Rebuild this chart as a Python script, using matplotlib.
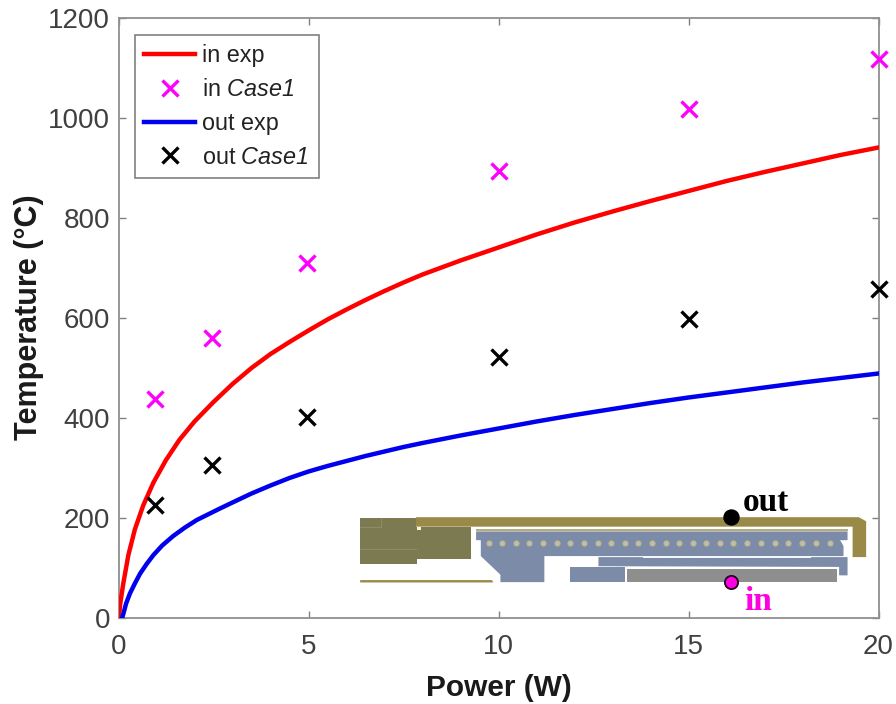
import matplotlib
matplotlib.use('Agg')
import matplotlib.pyplot as plt
from matplotlib.patches import Polygon

plt.rcParams['font.family'] = ['Liberation Sans', 'DejaVu Sans']
# rm is italic too, so the 1 in Case1 comes out slanted
plt.rcParams['mathtext.fontset'] = 'custom'
plt.rcParams['mathtext.it'] = 'Liberation Sans:italic'
plt.rcParams['mathtext.rm'] = 'Liberation Sans:italic'

# curves
in_exp_p = [0, 0.02, 0.05, 0.126, 0.26, 0.43, 0.65, 0.92, 1.25, 1.6, 2, 2.5, 3, 3.5, 4, 4.5, 5, 5.5, 6, 6.5,
            7, 7.5, 8, 9, 10, 11, 12, 13, 14, 15, 16, 17, 18, 19, 20]
in_exp_t = [0, 8, 30, 68, 125, 176, 224, 270, 315, 355, 392, 431, 467, 499, 527, 551, 574, 596, 616, 635,
            653, 670, 686, 714, 740, 766, 790, 812, 833, 853, 873, 891, 908, 925, 940]
out_exp_p = [0.1, 0.13, 0.2, 0.3, 0.43, 0.57, 0.74, 0.92, 1.15, 1.44, 1.75, 2.06, 2.67, 3, 3.5, 4, 4.5, 5, 5.5, 6,
             6.5, 7, 7.5, 8, 9, 10, 11, 12, 13, 14, 15, 16, 17, 18, 19, 20]
out_exp_t = [0, 8, 28, 48, 68, 88, 107, 125, 144, 163, 180, 195, 218, 230, 248, 264, 279, 292, 303, 313,
             323, 332, 341, 349, 364, 378, 392, 405, 417, 429, 440, 450, 460, 470, 479, 488]

case_p = [0.96, 2.47, 4.97, 10, 15, 20]
in_case = [437, 559, 710, 893, 1018, 1118]
out_case = [225, 305, 402, 521, 598, 658]

W, H = 896, 704
fig = plt.figure(figsize=(W / 100, H / 100), dpi=100)
ax = fig.add_axes([118.5 / W, 1 - 617.5 / H, 760 / W, 600 / H])

ax.plot(in_exp_p, in_exp_t, color='#ff0000', lw=3.2, label='in exp', zorder=3)
ax.plot(case_p, in_case, 'x', color='#ff00ff', ms=11, mew=2.4, clip_on=False, label=r'in $\mathit{Case1}$', zorder=4)
ax.plot(out_exp_p, out_exp_t, color='#0000ee', lw=3.2, label='out exp', zorder=3)
ax.plot(case_p, out_case, 'x', color='black', ms=11, mew=2.4, clip_on=False, label=r'out $\mathit{Case1}$', zorder=4)

ax.set_xlim(0, 20)
ax.set_ylim(0, 1200)
ax.set_xticks([0, 5, 10, 15, 20])
ax.set_yticks([0, 200, 400, 600, 800, 1000, 1200])
ax.tick_params(direction='in', length=5, width=1, color='#808080', labelcolor='#404040',
               labelsize=20, top=True, right=True)
ax.tick_params(axis='x', pad=12)
ax.tick_params(axis='y', pad=6)
for s in ax.spines.values():
    s.set_color('#909090')
    s.set_linewidth(1.3)
ax.set_xlabel('Power (W)', fontsize=21.5, fontweight='bold', color='#1a1a1a', labelpad=10)
ax.set_ylabel('Temperature (°C)', fontsize=22, fontweight='bold', color='#1a1a1a', labelpad=3)

leg = ax.legend(loc='upper left', bbox_to_anchor=(16 / 760, 1 - 17 / 600), fontsize=16.8, borderaxespad=0,
                fancybox=False, framealpha=1, edgecolor='#808080', labelspacing=0.46,
                handlelength=2.16, handletextpad=0.33, borderpad=0.42, labelcolor='#222222')
leg.get_frame().set_linewidth(1.2)
leg.set_zorder(5)

# device sketch, coordinates are those of the crop
sk = fig.add_axes([350 / W, 1 - 620 / H, 530 / W, 140 / H])
sk.set_xlim(0, 1568)
sk.set_ylim(414, 0)
sk.axis('off')
sk.patch.set_alpha(0)

gold = '#9a8a48'
olive = '#7b7a50'
steel = '#7c8ca8'
shapes = [
    ([(195, 110), (1505, 110), (1527, 122), (1527, 228), (1487, 228), (1487, 138), (195, 138)], gold),
    ([(30, 112), (195, 112), (195, 140), (358, 140), (358, 233), (197, 233), (197, 248), (30, 248)], olive),
    ([(30, 296), (420, 296), (424, 303), (30, 303)], gold),
    ([(373, 146), (1472, 146), (1472, 152), (373, 152)], '#b5ab7a'),
    ([(373, 152), (1472, 152), (1472, 178), (1450, 178), (1460, 195), (1460, 225), (575, 225), (575, 302),
      (445, 302), (445, 280), (387, 225), (387, 178), (373, 178)], steel),
    ([(735, 228), (1472, 228), (1472, 282), (1447, 282), (1447, 257), (735, 255)], steel),
    ([(868, 224), (1365, 224), (1365, 231), (868, 231)], '#f4f6fb'),
    ([(652, 256), (813, 256), (813, 302), (652, 302)], steel),
    ([(820, 262), (1440, 262), (1440, 302), (820, 302)], '#8e8e8e'),
    ([(197, 139), (210, 139), (210, 147), (197, 147)], '#f8f4e0'),
]
for pts, c in shapes:
    sk.add_patch(Polygon(pts, closed=True, facecolor=c, edgecolor='none'))
sk.plot([30, 195], [205, 205], color='#8d8c68', lw=0.8)
sk.plot([92, 92], [112, 138], color='#8d8c68', lw=0.8)
sk.plot([30, 92], [138, 138], color='#8d8c68', lw=0.8)

hole_x = [410, 451, 491, 531, 572, 612, 652, 692, 733, 773, 813, 853, 893, 934, 974, 1014,
          1054, 1094, 1134, 1175, 1215, 1256, 1296, 1337, 1378, 1419]
sk.plot(hole_x, [187] * len(hole_x), 'o', ms=3.6, mfc='#b8bfc4', mec='#c4b878', mew=0.8)

sk.plot([1127], [110], 'o', ms=10.8, color='black')
sk.plot([1127], [301], 'o', ms=9.5, mfc='#ff00e0', mec='#200020', mew=1.3)
sk.text(1230, 66, 'out', family='Liberation Serif', fontweight='bold', fontsize=24, color='black',
        ha='center', va='center')
sk.text(1207, 358, 'in', family='Liberation Serif', fontweight='bold', fontsize=24, color='#ff00e0',
        ha='center', va='center')

fig.savefig('out.png', dpi=100)
